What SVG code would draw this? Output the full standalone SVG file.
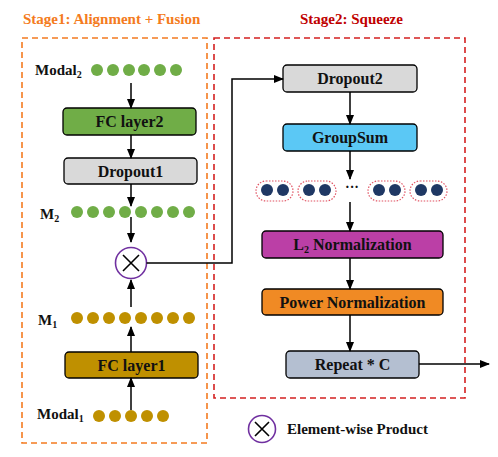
<svg xmlns="http://www.w3.org/2000/svg" width="498" height="457" viewBox="0 0 498 457" font-family="Liberation Serif, serif" font-weight="bold">
<defs>
<marker id="ah" markerWidth="10" markerHeight="8" refX="9" refY="4" orient="auto" markerUnits="userSpaceOnUse">
<path d="M0,0 L10,4 L0,8 Z" fill="#000"/>
</marker>
</defs>
<style>
.box{stroke:#000;stroke-width:1.3;}
.bt{font-size:16px;text-anchor:middle;fill:#111;}
.lab{font-size:15px;fill:#111;}
.sub{font-size:10px;}
.conn{stroke:#000;stroke-width:1.5;fill:none;marker-end:url(#ah);}
.g{fill:#70ad47;}
.y{fill:#bf9000;}
.n{fill:#1f3864;}
.pill{fill:none;stroke:#e05060;stroke-width:1.2;stroke-dasharray:1.5 1.5;}
</style>
<rect width="498" height="457" fill="#fff"/>

<g id="titles">
<text x="23" y="24" font-size="15" fill="#f47b20">Stage1: Alignment + Fusion</text>
<text x="300" y="24" font-size="15" fill="#c00000">Stage2: Squeeze</text>
</g>

<g id="stage1-frame"><rect x="22" y="38" width="185" height="405" fill="none" stroke="#f47b20" stroke-width="1.6" stroke-dasharray="6 4"/></g>
<g id="stage2-frame"><rect x="214" y="38" width="251" height="360" fill="none" stroke="#d42020" stroke-width="1.6" stroke-dasharray="6 4"/></g>

<g id="modal2">
<text class="lab" x="35" y="75">Modal<tspan class="sub" dy="3">2</tspan></text>
<circle class="g" cx="97" cy="70" r="6"/><circle class="g" cx="113" cy="70" r="6"/><circle class="g" cx="129" cy="70" r="6"/><circle class="g" cx="144" cy="70" r="6"/><circle class="g" cx="160" cy="70" r="6"/><circle class="g" cx="176" cy="70" r="6"/>
</g>

<g id="fc2"><rect class="box" x="63" y="108" width="133" height="27" rx="4" fill="#70ad47"/><text class="bt" x="129.5" y="127">FC layer2</text></g>
<g id="dropout1"><rect class="box" x="64" y="158" width="133" height="26" rx="4" fill="#d9d9d9"/><text class="bt" x="130.5" y="177">Dropout1</text></g>

<g id="m2">
<text class="lab" x="40" y="219">M<tspan class="sub" dy="3">2</tspan></text>
<circle class="g" cx="77" cy="212" r="6"/><circle class="g" cx="93" cy="212" r="6"/><circle class="g" cx="109" cy="212" r="6"/><circle class="g" cx="125" cy="212" r="6"/><circle class="g" cx="141" cy="212" r="6"/><circle class="g" cx="157" cy="212" r="6"/><circle class="g" cx="173" cy="212" r="6"/><circle class="g" cx="189" cy="212" r="6"/>
</g>

<g id="product">
<circle cx="131" cy="263" r="15.5" fill="#fff" stroke="#7030a0" stroke-width="1.6"/>
<path d="M123,255 L139,271 M139,255 L123,271" stroke="#000" stroke-width="1.6"/>
</g>

<g id="m1">
<text class="lab" x="38" y="325">M<tspan class="sub" dy="3">1</tspan></text>
<circle class="y" cx="77" cy="318" r="6"/><circle class="y" cx="93" cy="318" r="6"/><circle class="y" cx="109" cy="318" r="6"/><circle class="y" cx="125" cy="318" r="6"/><circle class="y" cx="141" cy="318" r="6"/><circle class="y" cx="157" cy="318" r="6"/><circle class="y" cx="173" cy="318" r="6"/><circle class="y" cx="189" cy="318" r="6"/>
</g>

<g id="fc1"><rect class="box" x="65" y="352" width="133" height="26" rx="4" fill="#bf9000"/><text class="bt" x="131.5" y="371">FC layer1</text></g>

<g id="modal1">
<text class="lab" x="37" y="419">Modal<tspan class="sub" dy="3">1</tspan></text>
<circle class="y" cx="99" cy="416" r="6"/><circle class="y" cx="115" cy="416" r="6"/><circle class="y" cx="131" cy="416" r="6"/><circle class="y" cx="147" cy="416" r="6"/><circle class="y" cx="163" cy="416" r="6"/>
</g>

<g id="dropout2"><rect class="box" x="283" y="65" width="134" height="27" rx="4" fill="#d9d9d9"/><text class="bt" x="350" y="84">Dropout2</text></g>
<g id="groupsum"><rect class="box" x="283" y="124" width="134" height="27" rx="4" fill="#5bc8f5"/><text class="bt" x="350" y="143">GroupSum</text></g>

<g id="groups">
<rect class="pill" x="256" y="181" width="37" height="20" rx="10"/><circle class="n" cx="267" cy="190" r="6"/><circle class="n" cx="283" cy="190" r="6"/>
<rect class="pill" x="298" y="181" width="38" height="20" rx="10"/><circle class="n" cx="309" cy="190" r="6"/><circle class="n" cx="325" cy="190" r="6"/>
<text x="352" y="192" font-size="14" text-anchor="middle" fill="#111">···</text>
<rect class="pill" x="368" y="181" width="37" height="20" rx="10"/><circle class="n" cx="379" cy="190" r="6"/><circle class="n" cx="395" cy="190" r="6"/>
<rect class="pill" x="410" y="181" width="37" height="20" rx="10"/><circle class="n" cx="421" cy="190" r="6"/><circle class="n" cx="437" cy="190" r="6"/>
</g>

<g id="l2norm"><rect class="box" x="262" y="231" width="181" height="27" rx="4" fill="#bb3fa6"/><text class="bt" x="352.5" y="250">L<tspan class="sub" font-size="11" dy="3">2</tspan><tspan dy="-3"> Normalization</tspan></text></g>
<g id="powernorm"><rect class="box" x="262" y="289" width="181" height="26" rx="4" fill="#f08a24"/><text class="bt" x="352.5" y="308">Power Normalization</text></g>
<g id="repeat"><rect class="box" x="286" y="351" width="133" height="27" rx="4" fill="#b4bfd1"/><text class="bt" x="352.5" y="370">Repeat * C</text></g>

<g id="legend">
<circle cx="262" cy="429" r="13.5" fill="#fff" stroke="#7030a0" stroke-width="1.6"/>
<path d="M255,422 L269,436 M269,422 L255,436" stroke="#000" stroke-width="1.6"/>
<text class="lab" x="287" y="434">Element-wise Product</text>
</g>

<g id="connectors">
<line class="conn" x1="131" y1="83" x2="131" y2="108"/>
<line class="conn" x1="131" y1="135" x2="131" y2="158"/>
<line class="conn" x1="131" y1="184" x2="131" y2="206"/>
<line class="conn" x1="131" y1="217" x2="131" y2="242"/>
<line class="conn" x1="131" y1="307" x2="131" y2="280"/>
<line class="conn" x1="131" y1="352" x2="131" y2="327"/>
<line class="conn" x1="131" y1="410" x2="131" y2="378"/>
<polyline class="conn" points="146.5,263 232,263 232,79 283,79"/>
<line class="conn" x1="350" y1="92" x2="350" y2="124"/>
<line class="conn" x1="350" y1="151" x2="350" y2="179"/>
<line class="conn" x1="350" y1="202" x2="350" y2="231"/>
<line class="conn" x1="350" y1="258" x2="350" y2="289"/>
<line class="conn" x1="350" y1="315" x2="350" y2="351"/>
<line class="conn" x1="419" y1="364" x2="489" y2="364"/>
</g>
</svg>
